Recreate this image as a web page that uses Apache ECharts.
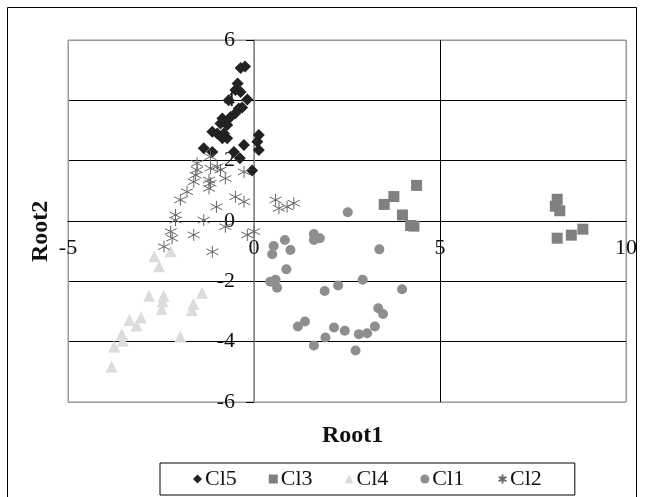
<!DOCTYPE html>
<html>
<head>
<meta charset="utf-8">
<script src="https://cdn.jsdelivr.net/npm/echarts@6/dist/echarts.min.js"></script>
<style>
html,body{margin:0;padding:0;background:#fff;}
#chart{width:645px;height:497px;}
</style>
</head>
<body>
<div id="chart"></div>
<script>
const seriesNames = ['Cl5', 'Cl3', 'Cl4', 'Cl1', 'Cl2'];
const xTicks = [-5, 0, 5, 10];
const yTicks = [-6, -4, -2, 0, 2, 4, 6];

const cl5 = [[-0.36,5.07],[-0.24,5.12],[-0.44,4.56],[-0.50,4.34],[-0.36,4.28],[-0.18,4.03],[-0.68,4.00],
  [-0.41,3.73],[-0.32,3.76],[-0.50,3.57],[-0.63,3.45],[-0.85,3.40],[-0.90,3.23],[-0.72,3.18],[-1.12,2.96],
  [-0.99,2.90],[-0.81,2.90],[-0.72,2.74],[-0.85,2.74],[0.13,2.85],[0.09,2.63],[0.13,2.35],[-1.35,2.41],
  [-0.27,2.52],[-0.54,2.29],[-1.12,2.29],[-0.38,2.08],[-0.05,1.67]];
const cl3 = [[4.37,1.18],[3.76,0.81],[3.50,0.55],[3.99,0.20],[4.21,-0.15],[4.30,-0.17],
  [8.15,0.72],[8.10,0.49],[8.22,0.34],[8.15,-0.57],[8.53,-0.47],[8.84,-0.27]];
const cl4 = [[-2.68,-1.17],[-2.55,-1.50],[-2.24,-1.00],[-2.82,-2.48],[-2.43,-2.48],[-2.46,-2.66],
  [-2.48,-2.92],[-1.40,-2.38],[-1.63,-2.75],[-1.67,-2.95],[-3.04,-3.20],[-3.35,-3.28],[-3.16,-3.46],
  [-3.55,-3.75],[-3.53,-3.97],[-1.98,-3.83],[-3.76,-4.16],[-3.83,-4.82]];
const cl1 = [[2.52,0.29],[0.53,-0.83],[0.49,-1.10],[0.83,-0.63],[0.98,-0.96],[1.61,-0.43],[1.61,-0.63],
  [1.77,-0.57],[3.37,-0.94],[0.87,-1.60],[0.44,-2.01],[0.58,-1.95],[0.62,-2.21],[1.90,-2.32],[2.26,-2.14],
  [2.92,-1.95],[3.98,-2.26],[3.34,-2.89],[3.47,-3.08],[1.18,-3.50],[1.37,-3.33],[2.15,-3.53],[2.44,-3.64],
  [2.82,-3.75],[3.04,-3.72],[3.25,-3.50],[1.92,-3.86],[1.61,-4.13],[2.73,-4.29]];
const cl2 = [[-1.53,1.91],[-1.53,1.69],[-1.57,1.52],[-1.62,1.30],[-1.17,2.13],[-1.17,1.75],[-0.99,1.80],
  [-0.90,1.69],[-1.21,1.36],[-1.17,1.25],[-1.21,1.08],[-0.77,1.41],[-0.27,1.63],[-1.80,0.97],[-1.98,0.70],
  [-0.50,0.80],[-0.27,0.64],[-1.01,0.47],[-2.11,0.20],[-2.11,0.03],[-1.35,0.03],[-0.77,-0.19],[-2.24,-0.35],
  [-2.20,-0.57],[-1.62,-0.46],[-2.42,-0.85],[-1.12,-1.02],[-0.18,-0.46],[0.00,-0.35],[0.58,0.70],
  [0.67,0.42],[0.89,0.47],[1.07,0.59]];

const FONT = 'Liberation Serif';
const asterisk = 'path://M5,0L5,10M0.7,2.5L9.3,7.5M0.7,7.5L9.3,2.5';

const GRID = {left: 68, right: 19, top: 40, bottom: 95};
const W = 645, H = 497;
const plotW = W - GRID.left - GRID.right;
const plotH = H - GRID.top - GRID.bottom;
const xMin = xTicks[0], xMax = xTicks[xTicks.length - 1];
const yMin = yTicks[0], yMax = yTicks[yTicks.length - 1];
// shift each axis so it sits on the other axis's zero, labels included
const yAxisOffset = -plotW * (0 - xMin) / (xMax - xMin);
const xAxisOffset = -plotH * (0 - yMin) / (yMax - yMin);

const chart = echarts.init(document.getElementById('chart'), null, {renderer: 'canvas'});
chart.setOption({
  backgroundColor: '#fff',
  animation: false,
  textStyle: {fontFamily: FONT},
  grid: Object.assign({show: true, borderColor: '#999', borderWidth: 1, containLabel: false}, GRID),
  xAxis: {
    type: 'value', min: xMin, max: xMax, interval: 5,
    position: 'bottom', offset: xAxisOffset,
    axisLine: {onZero: false, lineStyle: {color: '#000', width: 1}},
    axisTick: {show: false},
    axisLabel: {margin: 16, color: '#111', fontSize: 22, fontFamily: FONT, showMinLabel: true, showMaxLabel: true, hideOverlap: false},
    splitLine: {show: true, lineStyle: {color: ['#999', '#888', '#000', '#999'], width: 1}}
  },
  yAxis: {
    type: 'value', min: yMin, max: yMax, interval: 2,
    position: 'left', offset: yAxisOffset,
    axisLine: {onZero: false, lineStyle: {color: '#888', width: 1.5}},
    axisTick: {show: true, inside: false, length: 8, lineStyle: {color: '#000'}},
    axisLabel: {margin: 19, color: '#111', fontSize: 22, fontFamily: FONT, showMinLabel: true, showMaxLabel: true, hideOverlap: false},
    splitLine: {show: true, lineStyle: {color: ['#999', '#000', '#000', '#000', '#000', '#000', '#999'], width: 1}}
  },
  legend: {
    left: 160, top: 463, width: 410,
    padding: [5, 33], itemGap: 32, itemWidth: 9, itemHeight: 9,
    borderColor: '#000', borderWidth: 1,
    textStyle: {fontFamily: FONT, fontSize: 22, color: '#111', padding: [0, 0, 0, -2]},
    data: seriesNames
  },
  graphic: [
    {type: 'rect', shape: {x: 7.5, y: 7.5, width: 629, height: 500}, style: {fill: 'none', stroke: '#000', lineWidth: 1}, silent: true},
    {type: 'text', left: 322, top: 424, style: {text: 'Root1', font: 'bold 24px ' + FONT, fill: '#111'}},
    {type: 'text', x: 29, y: 262, rotation: Math.PI / 2, style: {text: 'Root2', font: 'bold 24px ' + FONT, fill: '#111'}}
  ],
  series: [
    {name: seriesNames[0], type: 'scatter', data: cl5, symbol: 'diamond', symbolSize: 12, itemStyle: {color: '#222', opacity: 1}},
    {name: seriesNames[1], type: 'scatter', data: cl3, symbol: 'rect', symbolSize: 11, itemStyle: {color: '#808080', opacity: 1}},
    {name: seriesNames[2], type: 'scatter', data: cl4, symbol: 'triangle', symbolSize: 12, itemStyle: {color: '#dcdcdc', opacity: 1}},
    {name: seriesNames[3], type: 'scatter', data: cl1, symbol: 'circle', symbolSize: 10, itemStyle: {color: '#8e8e8e', opacity: 1}},
    {name: seriesNames[4], type: 'scatter', data: cl2, symbol: asterisk, symbolSize: 12, itemStyle: {color: 'none', borderColor: '#666', borderWidth: 1, opacity: 1}}
  ]
});
</script>
</body>
</html>
